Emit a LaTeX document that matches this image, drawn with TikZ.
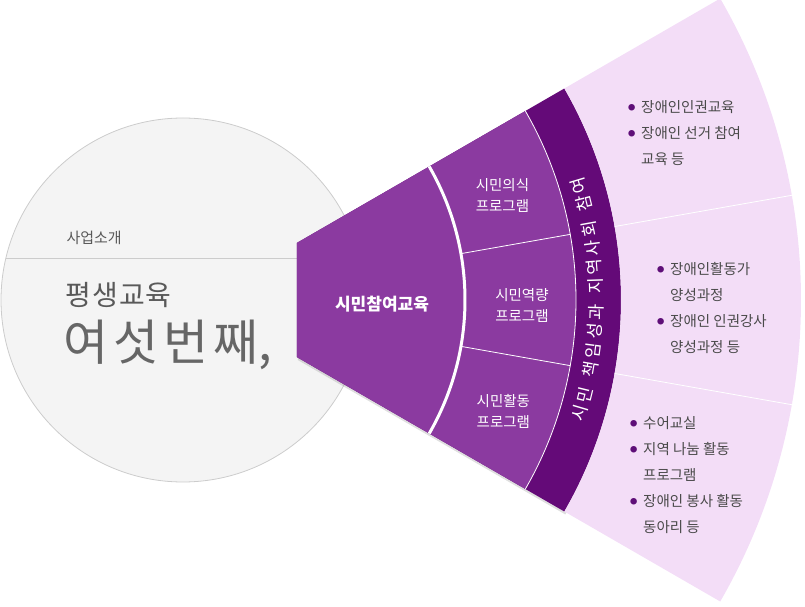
\documentclass[tikz,border=0pt]{standalone}
\usepackage{fontspec}
\setmainfont{Noto Sans CJK KR}
\usetikzlibrary{shadows}

\definecolor{fanpurple}{HTML}{8B3AA0}
\definecolor{fandark}{HTML}{640A78}
\definecolor{fanpink}{HTML}{F3DDF7}
\definecolor{dotpurple}{HTML}{5E0E78}
\definecolor{listgray}{HTML}{4A4A4A}
\definecolor{circlefill}{HTML}{F4F4F4}
\definecolor{circleline}{HTML}{CCCCCC}

\newcommand{\ringsector}[4]{(#1:#3) arc[start angle=#1, end angle=#2, radius=#3] -- (#2:#4) arc[start angle=#2, end angle=#1, radius=#4] -- cycle}
\newcommand{\blt}{\makebox[13pt][l]{\textcolor{dotpurple}{\raisebox{1.5pt}{\scalebox{0.5}{●}}}}}
\newcommand{\ind}{\makebox[13pt]{}}

\begin{document}
\begin{tikzpicture}[x=1pt, y=1pt,
  prog/.style={text=white, font=\fontsize{14.5}{21}\selectfont, align=center},
  band/.style={text=white, font=\fontsize{17.5}{17.5}\selectfont, inner sep=0pt},
  list/.style={text=listgray, font=\fontsize{14.5}{26}\selectfont, align=left, anchor=north west, inner sep=0pt},
  divider/.style={draw=white, line width=0.8pt}]
\useasboundingbox (-198,-307) rectangle (607,300);
% left circle
\draw[fill=circlefill, draw=circleline, line width=0.8pt] (-15,0) circle[radius=182];
\draw[circleline, line width=0.8pt] (-192,42) -- (99,42);
\node (intro) [anchor=west, text=black!65, font=\fontsize{15}{15}\selectfont] at (-135,62) {사업소개};
\node (lifelong) [anchor=west, text=black!65, font=\fontsize{28}{28}\selectfont] at (-136,5) {평\hspace{1pt}생\hspace{1pt}교\hspace{1pt}육};
\node (sixth) [anchor=west, text=black!60, font=\fontsize{49}{49}\selectfont] at (-138,-45) {여\hspace{5pt}섯\hspace{5pt}번\hspace{5pt}째,};
% fan
\fill[fandark, drop shadow={opacity=0.25, shadow xshift=1pt, shadow yshift=-3pt}]
  (30:114.3) -- (30:423) arc[start angle=30, end angle=-30, radius=423] -- (-30:114.3) -- cycle;
\fill[fanpurple] \ringsector{-30}{30}{268}{378};
\fill[fanpurple] (30:114.3) -- (30:266) arc[start angle=30, end angle=-30, radius=266] -- (-30:114.3) -- cycle;
\fill[fanpink] \ringsector{-30}{30}{423}{603};
\draw[white, line width=3pt] (30:267) arc[start angle=30, end angle=-30, radius=267];
\draw[white, line width=0.8pt] (30:378) arc[start angle=30, end angle=-30, radius=378];
\foreach \a in {10,-10} {
  \draw[divider] (\a:268) -- (\a:378);
  \draw[divider] (\a:423) -- (\a:603);
}
% labels
\node (core) [text=white, font=\bfseries\fontsize{17}{17}\selectfont] at (184,-4) {시민참여교육};
\node[prog] (civic) at (19:322) {시민의식\\프로그램};
\node[prog] (skill) at (-1:324) {시민역량\\프로그램};
\node[prog] (action) at (-20:325) {시민활동\\프로그램};
\foreach \ch/\ang [count=\i] in {시/-16.5, 민/-13.75, 책/-10, 임/-7.25, 성/-4.5, 과/-1.75, 지/2, 역/4.75, 사/7.5, 회/10.25, 참/14, 여/16.75}
  \node[band, rotate=\ang+90] (band\i) at (\ang:398) {\ch};
% lists
\node[list] (listtop) at (430,200) {\blt 장애인인권교육\\\blt 장애인 선거 참여\\\ind 교육 등};
\node[list] (listmid) at (459,38) {\blt 장애인활동가\\\ind 양성과정\\\blt 장애인 인권강사\\\ind 양성과정 등};
\node[list] (listbot) at (432,-116) {\blt 수어교실\\\blt 지역 나눔 활동\\\ind 프로그램\\\blt 장애인 봉사 활동\\\ind 동아리 등};
\end{tikzpicture}
\end{document}
